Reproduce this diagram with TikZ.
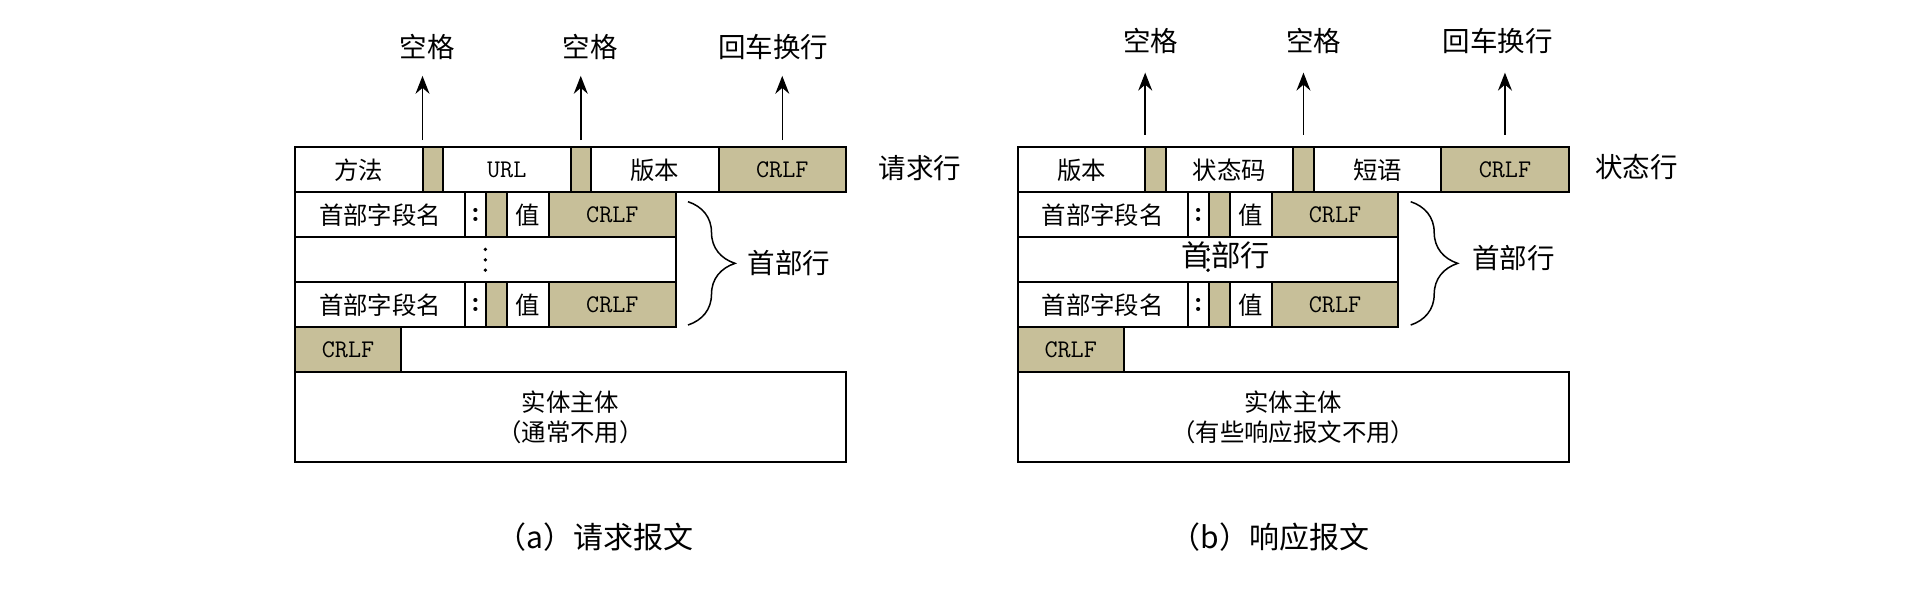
\documentclass[tikz,border=0pt]{standalone}
\usepackage{fontspec}
\newfontfamily\cjk{Noto Sans CJK SC}
\usetikzlibrary{arrows.meta,decorations.pathreplacing}
\definecolor{fieldtan}{RGB}{199,191,153}

\begin{document}
\begin{tikzpicture}[x=0.5pt, y=-0.5pt,
    cell/.style={draw=black, line width=1pt, inner sep=0pt, outer sep=0pt, anchor=north west,
        minimum height=22.5pt, font=\cjk\fontsize{12.2}{14}\selectfont},
    sepcell/.style={cell, fill=fieldtan},
    crlfcell/.style={sepcell, font=\ttfamily\fontsize{12.7}{14}\selectfont},
    monocell/.style={cell, font=\ttfamily\fontsize{12.7}{14}\selectfont},
    colcell/.style={cell, font=\ttfamily\bfseries\fontsize{15}{16}\selectfont},
    tag/.style={inner sep=0pt, font=\cjk\fontsize{13.75}{16}\selectfont},
    caption/.style={inner sep=0pt, font=\cjk\fontsize{15}{18}\selectfont},
    upArrow/.style={-{Stealth[length=9pt,width=7pt,inset=3pt]}, line width=0.75pt},
    hdBrace/.style={decorate, decoration={brace, amplitude=23.5pt}, line width=0.75pt}]

    \fill[white] (0,0) rectangle (1916,589);
    \useasboundingbox (0,0) rectangle (1916,589);

    %% (a) 请求报文
    \begin{scope}[shift={(295,0)}]
        % 请求行
        \foreach \n/\x/\w/\s/\t in
        {q1/0/127.5/cell/方法,
            q2/127.5/20.5/sepcell/{},
            q3/148/127.5/monocell/URL,
            q4/275.5/20.5/sepcell/{},
            q5/296/127.5/cell/版本,
            q6/423.5/127.5/crlfcell/CRLF
        }
        {
            \node[\s, minimum width=\w*0.5pt] (a\n) at (\x,147.3) {\t};
        };
        % 首部行 (两行, 中间省略)
        \foreach \r/\y in {h/192.3, k/282.3}
        {
            \foreach \n/\x/\w/\s/\t in
            {1/0/170/cell/首部字段名,
                2/170/21/colcell/:,
                3/191/21/sepcell/{},
                4/212/42/cell/值,
                5/254/126.7/crlfcell/CRLF
            }
            {
                \node[\s, minimum width=\w*0.5pt] (a\r\n) at (\x,\y) {\t};
            };
        };
        \node[cell, minimum width=190.35pt] (ad) at (0,237.3) {};
        \foreach \k in {-1,0,1}
            \fill ([yshift=\k*5.2pt]ad.center) circle (0.95pt);
        \node[crlfcell, minimum width=53pt] (ae) at (0,327.3) {CRLF};
        \node[cell, minimum width=275.5pt, minimum height=45pt, align=center,
            font=\cjk\fontsize{12.2}{15}\selectfont] (ab) at (0,372.3) {实体主体\\（通常不用）};

        \node[tag] (as1) at (132,46.7) {空格};
        \node[tag] (as2) at (295,46.7) {空格};
        \node[tag] (as3) at (478,46.7) {回车换行};
        \draw[upArrow, shorten <=3.6pt, shorten >=8pt] (aq2.north west) -- (aq2.north west |- as1.south);
        \draw[upArrow, shorten <=3.6pt, shorten >=8pt] (aq4.north) -- (aq4.north |- as2.south);
        \draw[upArrow, shorten <=3.6pt, shorten >=8pt] (aq6.north) -- (aq6.north |- as3.south);

        \node[tag] (aline) at (625,168.3) {请求行};
        \draw[hdBrace] (393,201.7) -- (393,325);
        \node[tag] (ahead) at (494,262.7) {首部行};
        \node[caption] (acap) at (300,537) {（a）请求报文};
    \end{scope}

    %% (b) 响应报文
    \begin{scope}[shift={(1017.7,0)}]
        % 状态行
        \foreach \n/\x/\w/\s/\t in
        {q1/0/127.5/cell/版本,
            q2/127.5/20.5/sepcell/{},
            q3/148/127.5/cell/状态码,
            q4/275.5/20.5/sepcell/{},
            q5/296/127.5/cell/短语,
            q6/423.5/127.5/crlfcell/CRLF
        }
        {
            \node[\s, minimum width=\w*0.5pt] (b\n) at (\x,147.3) {\t};
        };
        \foreach \r/\y in {h/192.3, k/282.3}
        {
            \foreach \n/\x/\w/\s/\t in
            {1/0/170/cell/首部字段名,
                2/170/21/colcell/:,
                3/191/21/sepcell/{},
                4/212/42/cell/值,
                5/254/126.7/crlfcell/CRLF
            }
            {
                \node[\s, minimum width=\w*0.5pt] (b\r\n) at (\x,\y) {\t};
            };
        };
        \node[cell, minimum width=190.35pt] (bd) at (0,237.3) {};
        \foreach \k in {-1,0,1}
            \fill ([yshift=\k*5.2pt]bd.center) circle (0.95pt);
        \node[inner sep=0pt, font=\cjk\fontsize{14.7}{16}\selectfont] (bover) at (208,255) {首部行};
        \node[crlfcell, minimum width=53pt] (be) at (0,327.3) {CRLF};
        \node[cell, minimum width=275.5pt, minimum height=45pt, align=center,
            font=\cjk\fontsize{12.2}{15}\selectfont] (bb) at (0,372.3) {实体主体\\（有些响应报文不用）};

        \node[tag] (bs1) at (133,40.7) {空格};
        \node[tag] (bs2) at (296,40.7) {空格};
        \node[tag] (bs3) at (480,40.7) {回车换行};
        \draw[upArrow, shorten <=6.2pt, shorten >=9.4pt] (bq2.north west) -- (bq2.north west |- bs1.south);
        \draw[upArrow, shorten <=6.2pt, shorten >=9.4pt] (bq4.north) -- (bq4.north |- bs2.south);
        \draw[upArrow, shorten <=6.2pt, shorten >=9.4pt] (bq6.north) -- (bq6.north |- bs3.south);

        \node[tag] (bline) at (619,166.7) {状态行};
        \draw[hdBrace] (393,201.7) -- (393,325);
        \node[tag] (bhead) at (496,258.3) {首部行};
        \node[caption] (bcap) at (252.3,537) {（b）响应报文};
    \end{scope}
\end{tikzpicture}
\end{document}
